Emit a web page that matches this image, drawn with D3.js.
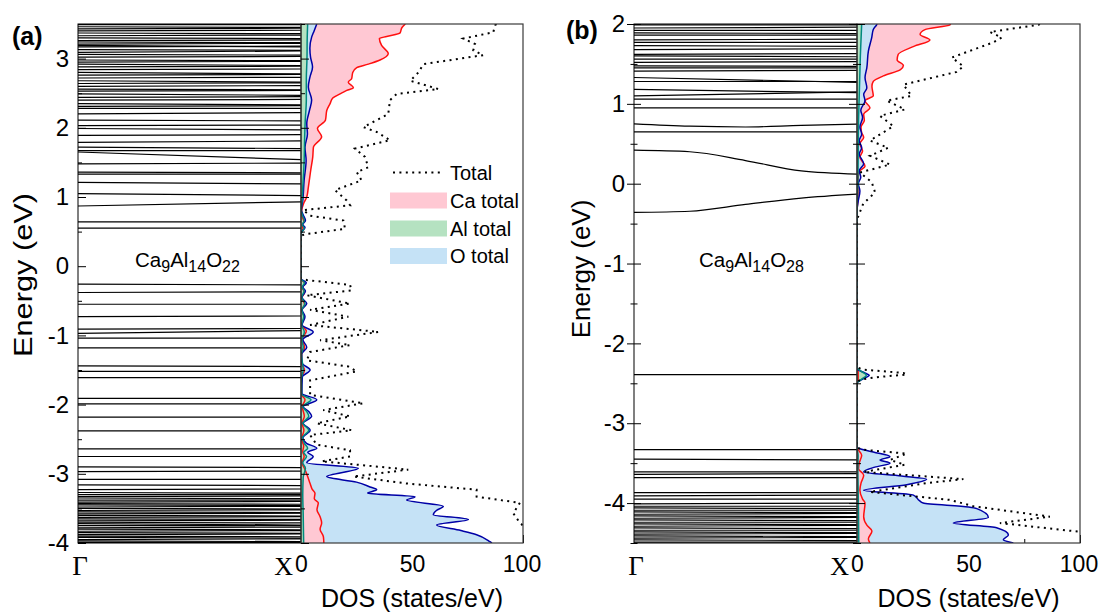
<!DOCTYPE html>
<html>
<head>
  <meta charset="utf-8">
  <title>Band structure and DOS</title>
  <script src="https://d3js.org/d3.v7.min.js"></script>
  <style>
    body { margin: 0; background: #fff; }
    svg { display: block; font-family: 'Liberation Sans', Arial, sans-serif; }
  </style>
</head>
<body>
<script>
  // ---- band energies (eV), each band sampled evenly from Γ to X ----
  const bandsA = [
    [3.49, 3.49], [3.46, 3.45], [3.43, 3.44], [3.40, 3.41], [3.37, 3.36], [3.33, 3.34], [3.30, 3.29],
    [3.26, 3.27], [3.24, 3.23], [3.21, 3.22], [3.19, 3.17], [3.17, 3.18], [3.13, 3.12], [3.09, 3.11],
    [3.06, 3.05], [3.02, 3.03], [2.98, 2.97], [2.95, 2.96], [2.92, 2.90], [2.88, 2.89], [2.84, 2.85],
    [2.80, 2.78], [2.76, 2.77], [2.72, 2.73], [2.68, 2.66], [2.64, 2.65], [2.60, 2.61], [2.56, 2.55],
    [2.53, 2.54], [2.49, 2.47], [2.44, 2.45], [2.40, 2.41], [2.35, 2.33], [2.31, 2.32], [2.28, 2.28],
    [2.20, 2.22], [2.11, 2.10], [2.03, 2.04], [1.99, 1.97], [1.89, 1.90], [1.79, 1.81], [1.72, 1.70],
    [1.67, 1.67], [1.65, 1.54], [1.48, 1.49], [1.36, 1.35], [1.33, 1.33], [1.21, 1.19], [1.05, 1.02],
    [0.87, 0.93], [0.64, 0.64], [0.55, 0.55],
    [-0.26, -0.27], [-0.38, -0.37], [-0.55, -0.55], [-0.73, -0.72], [-0.91, -0.90], [-0.97, -0.93],
    [-1.04, -1.04], [-1.18, -1.18], [-1.44, -1.45], [-1.52, -1.52], [-1.61, -1.61], [-1.91, -1.91],
    [-1.99, -1.99], [-2.18, -2.18], [-2.38, -2.38], [-2.64, -2.64], [-2.75, -2.75], [-2.90, -2.91],
    [-2.97, -2.96], [-3.08, -3.08], [-3.16, -3.17], [-3.23, -3.22],
    [-3.27, -3.28], [-3.30, -3.30], [-3.33, -3.32], [-3.35, -3.36], [-3.38, -3.38], [-3.41, -3.40],
    [-3.43, -3.44], [-3.45, -3.46], [-3.48, -3.47], [-3.50, -3.51], [-3.53, -3.52], [-3.55, -3.56],
    [-3.58, -3.57], [-3.60, -3.61], [-3.63, -3.62], [-3.65, -3.66], [-3.68, -3.67], [-3.70, -3.71],
    [-3.72, -3.74], [-3.75, -3.75], [-3.78, -3.77], [-3.80, -3.81], [-3.83, -3.82], [-3.85, -3.86],
    [-3.88, -3.87], [-3.90, -3.91], [-3.92, -3.93], [-3.95, -3.94], [-3.97, -3.98], [-3.99, -3.99]
  ];

  const bandsB = [
    [1.99, 1.99], [1.95, 1.96], [1.92, 1.92], [1.89, 1.88], [1.86, 1.86], [1.80, 1.81], [1.77, 1.77],
    [1.73, 1.72], [1.68, 1.69], [1.62, 1.63], [1.60, 1.59], [1.56, 1.56], [1.52, 1.53], [1.475, 1.47],
    [1.45, 1.45], [1.41, 1.42], [1.33, 1.27], [1.28, 1.28], [1.18, 1.14], [1.10, 1.15], [1.06, 1.06],
    [0.95, 0.95], [0.75, 0.72, 0.71, 0.73, 0.745], [0.65, 0.65],
    [0.42, 0.40, 0.29, 0.16, 0.12], [-0.36, -0.345, -0.26, -0.18, -0.13],
    [-2.39, -2.39],
    [-3.33, -3.33], [-3.45, -3.46], [-3.61, -3.61], [-3.64, -3.63], [-3.68, -3.68], [-3.87, -3.87],
    [-3.91, -3.90], [-3.95, -3.95], [-4.01, -4.00], [-4.04, -4.04], [-4.06, -4.07], [-4.09, -4.09],
    [-4.11, -4.12], [-4.14, -4.13], [-4.16, -4.17], [-4.19, -4.18], [-4.21, -4.22], [-4.24, -4.24],
    [-4.26, -4.27], [-4.29, -4.28], [-4.31, -4.32], [-4.34, -4.34], [-4.36, -4.37], [-4.39, -4.38],
    [-4.41, -4.42], [-4.44, -4.43], [-4.46, -4.47], [-4.49, -4.49]
  ];

  // ---- DOS, [energy eV, states/eV] ----
  const caA = [
    [3.5, 47], [3.45, 45.5], [3.37, 44.6], [3.32, 38.6], [3.29, 35.3], [3.19, 36.3], [3.07, 39.3],
    [2.98, 35.6], [2.92, 30.3], [2.87, 25.1], [2.80, 23.3], [2.71, 22.8], [2.66, 21.3], [2.58, 23.6],
    [2.54, 20.6], [2.49, 17.6], [2.43, 14.3], [2.35, 13.1], [2.25, 11.6], [2.11, 11.0], [1.99, 7.4],
    [1.87, 9.3], [1.72, 5.6], [1.58, 5.3], [1.39, 4.4], [1.14, 3.3], [1.0, 2.6], [0.90, 1.1], [0.80, 0.3],
    [0.72, 0.5], [0.65, 1.3], [0.59, 0.6], [0.54, 0.9], [0.48, 0.1], [0.44, 0], [-0.18, 0], [-0.25, 1.8],
    [-0.31, 0.6], [-0.38, 1.6], [-0.46, 0.3], [-0.55, 1.6], [-0.64, 0.4], [-0.73, 1.5], [-0.84, 0.4],
    [-0.94, 2.4], [-1.05, 0.6], [-1.17, 1.6], [-1.28, 0.3], [-1.40, 0.2], [-1.50, 1.6], [-1.62, 0.2],
    [-1.85, 0.2], [-1.93, 1.8], [-2.03, 0.6], [-2.17, 1.5], [-2.27, 0.5], [-2.37, 1.3], [-2.50, 0.3],
    [-2.60, 1.2], [-2.68, 0.8], [-2.75, 1.4], [-2.84, 0.5], [-2.94, 1.8], [-3.04, 3.0], [-3.14, 4.1],
    [-3.22, 5.0], [-3.28, 6.3], [-3.36, 6.0], [-3.42, 7.8], [-3.52, 7.2], [-3.62, 8.6], [-3.71, 9.3],
    [-3.80, 8.6], [-3.91, 10.1], [-4.0, 10.3]
  ];
  const alA = [
    [3.5, 3.0], [3.3, 2.8], [3.0, 2.7], [2.7, 2.4], [2.4, 2.4], [2.1, 1.9], [1.8, 1.6], [1.5, 1.4],
    [1.2, 0.9], [0.95, 0.5], [0.82, 0.1], [0.72, 0.8], [0.66, 1.5], [0.60, 0.6], [0.55, 1.4], [0.48, 0.2],
    [0.45, 0], [-0.18, 0], [-0.24, 1.6], [-0.30, 0.5], [-0.36, 1.4], [-0.45, 0.3], [-0.54, 1.8],
    [-0.63, 0.4], [-0.73, 1.2], [-0.85, 0.3], [-0.95, 1.5], [-1.06, 0.4], [-1.17, 1.0], [-1.27, 0.2],
    [-1.50, 1.0], [-1.62, 0.2], [-1.85, 0.3], [-1.93, 4.5], [-2.03, 0.8], [-2.10, 2.6], [-2.17, 3.5],
    [-2.27, 0.8], [-2.37, 3.5], [-2.48, 0.6], [-2.56, 1.5], [-2.63, 3.0], [-2.69, 1.2], [-2.75, 2.5],
    [-2.84, 0.8], [-2.92, 2.0], [-3.05, 1.0], [-3.3, 0.8], [-3.6, 1.0], [-3.8, 1.1], [-4.0, 1.2]
  ];
  const oA = [
    [3.5, 7.1], [3.40, 5.9], [3.31, 4.8], [3.15, 4.0], [3.02, 4.3], [2.88, 5.2], [2.73, 4.0], [2.59, 3.3],
    [2.40, 4.8], [2.25, 3.8], [2.06, 2.6], [1.91, 2.9], [1.72, 1.8], [1.53, 2.3], [1.24, 1.4], [0.95, 0.8],
    [0.81, 0.2], [0.74, 1.0], [0.66, 2.0], [0.60, 0.8], [0.56, 1.8], [0.50, 0.4], [0.45, 0], [-0.18, 0],
    [-0.24, 2.4], [-0.30, 0.8], [-0.36, 2.0], [-0.45, 0.4], [-0.54, 2.6], [-0.63, 0.5], [-0.73, 1.8],
    [-0.85, 0.5], [-0.95, 5.5], [-1.06, 0.8], [-1.17, 2.6], [-1.27, 0.3], [-1.40, 0.5], [-1.50, 4.1],
    [-1.60, 0.6], [-1.84, 0.4], [-1.93, 7.1], [-2.03, 1.0], [-2.10, 3.5], [-2.17, 4.8], [-2.27, 1.0],
    [-2.37, 4.1], [-2.48, 0.8], [-2.56, 2.5], [-2.63, 7.1], [-2.69, 3.0], [-2.75, 5.5], [-2.84, 2.6],
    [-2.92, 25.8], [-3.04, 11.6], [-3.12, 25], [-3.19, 31.1], [-3.23, 34.1], [-3.28, 30], [-3.33, 51.4],
    [-3.38, 47.6], [-3.47, 64.1], [-3.53, 61], [-3.59, 59.6], [-3.66, 75.4], [-3.74, 61.1], [-3.82, 72],
    [-3.88, 79.1], [-3.98, 85.1], [-4.0, 86]
  ];
  const totalA = [
    [3.5, 88], [3.48, 87.4], [3.38, 86.6], [3.29, 73.1], [3.21, 78.4], [3.12, 77.6], [3.05, 82.1],
    [2.92, 55.1], [2.80, 52.9], [2.68, 49.2], [2.56, 61.9], [2.49, 43.1], [2.40, 40.1], [2.20, 39.3],
    [2.01, 28.1], [1.94, 34.1], [1.82, 40.1], [1.70, 24.3], [1.58, 28.8], [1.43, 30.3], [1.36, 25.1],
    [1.24, 27.3], [1.10, 15.3], [0.95, 20.6], [0.88, 22.1], [0.81, 1.0], [0.73, 4.1], [0.66, 19.1],
    [0.60, 19.5], [0.54, 19.8], [0.46, 1.6], [0.44, 0], [-0.18, 0], [-0.20, 2.6], [-0.27, 22.1],
    [-0.35, 22.8], [-0.42, 2.6], [-0.54, 22.1], [-0.63, 4.1], [-0.73, 21.3], [-0.85, 4.1], [-0.95, 34.8],
    [-1.07, 8.6], [-1.14, 22.1], [-1.24, 4.1], [-1.36, 2.6], [-1.45, 21.3], [-1.52, 25.1], [-1.65, 4.1],
    [-1.86, 4.1], [-1.98, 28.1], [-2.08, 10.0], [-2.17, 22.1], [-2.27, 7.1], [-2.37, 22.8], [-2.44, 4.1],
    [-2.58, 7.1], [-2.66, 22.1], [-2.75, 22.1], [-2.82, 9.3], [-2.90, 35.6], [-2.94, 48.3], [-3.04, 23.6],
    [-3.14, 47.6], [-3.23, 79.1], [-3.33, 79.1], [-3.42, 98.6], [-3.57, 95.6], [-3.71, 98.6],
    [-3.85, 104], [-4.0, 110]
  ];

  const caB = [
    [2.0, 42], [1.99, 41.7], [1.93, 30.5], [1.87, 28.3], [1.80, 32.7], [1.72, 25.5], [1.62, 18.5],
    [1.55, 18.0], [1.48, 20.8], [1.43, 19.5], [1.35, 11.8], [1.28, 7.3], [1.22, 6.7], [1.10, 7.3],
    [1.04, 3.6], [0.95, 5.8], [0.87, 3.0], [0.79, 3.3], [0.71, 1.8], [0.64, 2.1], [0.58, 3.0], [0.50, 1.3],
    [0.41, 2.5], [0.33, 1.3], [0.22, 3.6], [0.16, 1.3], [0.10, 0.6], [0.0, 0.5], [-0.2, 0.4], [-0.34, 0],
    [-2.3, 0], [-2.35, 0.5], [-2.45, 0.5], [-2.5, 0], [-3.30, 0], [-3.40, 2.1], [-3.50, 1.0], [-3.57, 0.7],
    [-3.65, 3.0], [-3.75, 1.8], [-3.84, 1.3], [-3.95, 2.5], [-4.0, 3.6], [-4.17, 3.0], [-4.28, 4.5],
    [-4.35, 6.7], [-4.45, 5.1], [-4.5, 5.8]
  ];
  const alB = [
    [2.0, 2.1], [1.8, 1.8], [1.6, 1.5], [1.4, 1.3], [1.2, 1.1], [1.0, 0.9], [0.8, 0.7], [0.6, 0.6],
    [0.3, 0.5], [0.0, 0.4], [-0.34, 0], [-2.30, 0], [-2.36, 2.5], [-2.40, 4.2], [-2.45, 2.0], [-2.50, 0],
    [-3.30, 0], [-3.40, 0.5], [-3.6, 0.4], [-3.8, 0.5], [-4.0, 0.6], [-4.2, 0.7], [-4.5, 0.8]
  ];
  const oB = [
    [2.0, 9], [1.99, 8.8], [1.93, 7.3], [1.83, 6.6], [1.66, 5.1], [1.45, 4.4], [1.33, 3.6], [1.20, 4.4],
    [1.12, 3.0], [1.04, 3.6], [0.92, 1.7], [0.83, 2.5], [0.71, 1.3], [0.62, 2.1], [0.54, 1.0], [0.45, 2.1],
    [0.37, 1.0], [0.25, 3.0], [0.16, 1.0], [0.08, 1.7], [0.0, 0.6], [-0.09, 1.3], [-0.21, 0.6], [-0.34, 0],
    [-2.32, 0], [-2.37, 3.5], [-2.40, 5.5], [-2.44, 3.0], [-2.50, 0], [-3.30, 0], [-3.36, 7.3],
    [-3.42, 14.8], [-3.46, 10.3], [-3.50, 14.8], [-3.55, 8], [-3.61, 3.0], [-3.66, 20], [-3.70, 31.2],
    [-3.77, 22.3], [-3.84, 3.0], [-3.90, 25.3], [-3.97, 28], [-4.00, 29.7], [-4.05, 50], [-4.07, 53.7],
    [-4.18, 58.9], [-4.25, 43.2], [-4.31, 62.6], [-4.40, 67.9], [-4.46, 65.6], [-4.5, 70.1]
  ];
  const totalB = [
    [2.0, 82], [1.99, 81.3], [1.90, 59.6], [1.83, 64.9], [1.77, 61.1], [1.58, 42.5], [1.47, 47.7],
    [1.40, 44.7], [1.24, 20.8], [1.10, 24.5], [1.04, 13.3], [0.93, 21.5], [0.85, 10.3], [0.72, 16.3],
    [0.54, 5.8], [0.45, 14.0], [0.35, 5.8], [0.24, 14.8], [0.14, 1.3], [0.02, 6.6], [-0.11, 8.1],
    [-0.25, 2.8], [-0.42, 0.4], [-0.45, 0], [-2.30, 0], [-2.33, 3], [-2.37, 20.8], [-2.39, 22.3],
    [-2.42, 10], [-2.45, 2], [-2.48, 0], [-3.30, 0], [-3.33, 2], [-3.38, 22.3], [-3.46, 14.8],
    [-3.52, 21.5], [-3.61, 3.0], [-3.70, 47.7], [-3.75, 31.2], [-3.86, 5.8], [-3.96, 41.7], [-4.04, 52.2],
    [-4.17, 86.5], [-4.25, 64.1], [-4.36, 100], [-4.5, 110]
  ];

  // painting order of the filled DOS (largest drawn first) by energy window
  const orderA = [
    { hi: 3.5, lo: 0.3, layers: ['ca', 'o', 'al'] },
    { hi: 0.3, lo: -4, layers: ['o', 'ca', 'al'] }
  ];
  const orderB = [
    { hi: 2, lo: 0, layers: ['ca', 'o', 'al'] },
    { hi: 0, lo: -4.5, layers: ['o', 'ca', 'al'] }
  ];

  const majorA = [-4, -3, -2, -1, 0, 1, 2, 3];
  const minorA = [-3.5, -2.5, -1.5, -0.5, 0.5, 1.5, 2.5, 3.5];
  const majorB = [-4, -3, -2, -1, 0, 1, 2];
  const minorB = [-4.5, -3.5, -2.5, -1.5, -0.5, 0.5, 1.5];
  const dosTicks = [0, 50, 100];
  const dosMinor = [25, 75];
  const kLabels = ['Γ', 'X'];
  const legendItems = ['Total', 'Ca total', 'Al total', 'O total'];

  const colors = {
    ca: { fill: '#ffc8d3', stroke: '#ff1010' },
    al: { fill: '#b5e2c1', stroke: '#00897e' },
    o: { fill: '#c5e2f6', stroke: '#0000a6' }
  };

  const svg = d3.select('body').append('svg')
    .attr('width', 1099)
    .attr('height', 613);
  const defs = svg.append('defs');

  const panels = [
    {
      id: 'a', label: '(a)', labelX: 12, labelY: 45,
      x0: 78, x1: 301, x2: 523, top: 24, bottom: 543, domain: [-4, 3.5],
      bands: bandsA, pdos: { ca: caA, al: alA, o: oA }, total: totalA, order: orderA,
      major: majorA, minor: minorA, inward: true,
      formula: ['Ca', '9', 'Al', '14', 'O', '22'], fx: 135, fy: 267,
      eLabelX: 32, eLabelY: 275, eLabelLen: 164, legend: true
    },
    {
      id: 'b', label: '(b)', labelX: 566, labelY: 39,
      x0: 634, x1: 857, x2: 1080, top: 24, bottom: 543, domain: [-4.5, 2],
      bands: bandsB, pdos: { ca: caB, al: alB, o: oB }, total: totalB, order: orderB,
      major: majorB, minor: minorB, inward: false,
      formula: ['Ca', '9', 'Al', '14', 'O', '28'], fx: 699, fy: 267,
      eLabelX: 590, eLabelY: 269, eLabelLen: null, legend: false
    }
  ];

  const drawPanel = (p) => {
    const g = svg.append('g');
    const y = d3.scaleLinear().domain(p.domain).range([p.bottom, p.top]);
    const k = d3.scaleLinear().domain([0, 1]).range([p.x0, p.x1]);
    const x = d3.scaleLinear().domain([0, 100]).range([p.x1, p.x2]);

    defs.append('clipPath').attr('id', 'band-' + p.id).append('rect')
      .attr('x', p.x0).attr('y', p.top).attr('width', p.x1 - p.x0).attr('height', p.bottom - p.top);
    defs.append('clipPath').attr('id', 'dos-' + p.id).append('rect')
      .attr('x', p.x1).attr('y', p.top).attr('width', p.x2 - p.x1).attr('height', p.bottom - p.top);

    // band structure
    const bandLine = d3.line()
      .x((d, i, arr) => k(i / (arr.length - 1)))
      .y(d => y(d))
      .curve(d3.curveMonotoneX);
    g.append('g').attr('clip-path', 'url(#band-' + p.id + ')')
      .selectAll('path').data(p.bands).join('path')
      .attr('d', bandLine)
      .attr('fill', 'none')
      .attr('stroke', '#000')
      .attr('stroke-width', 1.2);

    // DOS x axis ticks (under the fills)
    const xAxis = g.append('g').attr('transform', `translate(0,${p.bottom})`)
      .call(d3.axisBottom(x).tickValues(dosTicks).tickSize(-8).tickPadding(13).tickFormat(d => String(d)));
    xAxis.select('.domain').remove();
    xAxis.selectAll('text')
      .attr('font-size', 23)
      .attr('font-family', "'Liberation Sans', Arial, sans-serif")
      .attr('dx', d => (d === 100 ? -1.5 : 0));
    const xMinor = g.append('g').attr('transform', `translate(0,${p.bottom})`)
      .call(d3.axisBottom(x).tickValues(dosMinor).tickSize(-4).tickFormat(''));
    xMinor.select('.domain').remove();

    const dos = g.append('g').attr('clip-path', 'url(#dos-' + p.id + ')');
    const area = d3.area()
      .y(d => y(d[0]))
      .x0(x(0))
      .x1(d => x(d[1]))
      .curve(d3.curveMonotoneY);
    const line = d3.line()
      .y(d => y(d[0]))
      .x(d => x(d[1]))
      .curve(d3.curveMonotoneY);

    p.order.forEach((r, j) => {
      const cid = `ord-${p.id}-${j}`;
      defs.append('clipPath').attr('id', cid).append('rect')
        .attr('x', p.x1).attr('width', p.x2 - p.x1)
        .attr('y', y(r.hi) - 0.5).attr('height', y(r.lo) - y(r.hi) + 1);
      const layer = dos.append('g').attr('clip-path', `url(#${cid})`);
      r.layers.forEach(s => {
        layer.append('path').datum(p.pdos[s])
          .attr('d', area)
          .attr('fill', colors[s].fill);
      });
    });

    ['ca', 'o', 'al'].forEach(s => {
      dos.append('path').datum(p.pdos[s])
        .attr('d', line)
        .attr('fill', 'none')
        .attr('stroke', colors[s].stroke)
        .attr('stroke-width', 1.5);
    });

    dos.append('path').datum(p.total)
      .attr('d', d3.line().y(d => y(d[0])).x(d => x(d[1])))
      .attr('fill', 'none')
      .attr('stroke', '#000')
      .attr('stroke-width', 2)
      .attr('stroke-dasharray', '2,4.4');

    // frames
    g.append('rect')
      .attr('x', p.x0).attr('y', p.top).attr('width', p.x1 - p.x0).attr('height', p.bottom - p.top)
      .attr('fill', 'none').attr('stroke', '#000').attr('stroke-width', 1);
    g.append('rect')
      .attr('x', p.x1).attr('y', p.top).attr('width', p.x2 - p.x1).attr('height', p.bottom - p.top)
      .attr('fill', 'none').attr('stroke', '#3a3a3a').attr('stroke-width', 1.2);

    // energy axis, labels on the band panel
    const yAxis = g.append('g').attr('transform', `translate(${p.x0},0)`)
      .call(d3.axisLeft(y).tickValues(p.major).tickSize(p.inward ? -8 : 7).tickPadding(p.inward ? 9 : 2)
        .tickFormat(d => String(d)));
    yAxis.select('.domain').remove();
    yAxis.selectAll('text').attr('font-size', 24).attr('font-family', "'Liberation Sans', Arial, sans-serif");
    const yMinor = g.append('g').attr('transform', `translate(${p.x0},0)`)
      .call(d3.axisLeft(y).tickValues(p.minor).tickSize(p.inward ? -4 : 3.5).tickFormat(''));
    yMinor.select('.domain').remove();
    if (!p.inward) {
      yAxis.selectAll('.tick line').attr('x1', 7).attr('x2', -7);
      yMinor.selectAll('.tick line').attr('x1', 3.5).attr('x2', -3.5);
    }

    // ticks on the DOS left edge
    const dAxis = g.append('g').attr('transform', `translate(${p.x1},0)`)
      .call(d3.axisRight(y).tickValues(p.major).tickSize(8).tickFormat(''));
    dAxis.select('.domain').remove();
    const dMinor = g.append('g').attr('transform', `translate(${p.x1},0)`)
      .call(d3.axisRight(y).tickValues(p.minor).tickSize(4).tickFormat(''));
    dMinor.select('.domain').remove();
    if (!p.inward) {
      dAxis.selectAll('.tick line').attr('x1', -8).attr('x2', 8);
      dMinor.selectAll('.tick line').attr('x1', -4).attr('x2', 4);
    }

    // k-point labels
    g.append('text').text(kLabels[0])
      .attr('x', k(0) + 2).attr('y', 575)
      .attr('text-anchor', 'middle')
      .attr('font-family', "'Liberation Serif', 'Times New Roman', serif")
      .attr('font-size', 27);
    g.append('text').text(kLabels[1])
      .attr('x', k(1) - 8).attr('y', 575)
      .attr('text-anchor', 'end')
      .attr('font-family', "'Liberation Serif', 'Times New Roman', serif")
      .attr('font-size', 26);

    // axis titles
    g.append('text').text('DOS (states/eV)')
      .attr('x', (p.x1 + p.x2) / 2).attr('y', 607)
      .attr('text-anchor', 'middle')
      .attr('font-size', 25);
    const et = g.append('text').text('Energy (eV)')
      .attr('transform', `translate(${p.eLabelX},${p.eLabelY}) rotate(-90)`)
      .attr('text-anchor', 'middle')
      .attr('font-size', 26);
    if (p.eLabelLen) et.attr('textLength', p.eLabelLen).attr('lengthAdjust', 'spacingAndGlyphs');

    // panel tag
    g.append('text').text(p.label)
      .attr('x', p.labelX).attr('y', p.labelY)
      .attr('font-weight', 'bold')
      .attr('font-size', 25);

    // formula
    const ft = g.append('text').attr('x', p.fx).attr('y', p.fy).attr('font-size', 20.5);
    p.formula.forEach((s, i) => {
      const sub = i % 2 === 1;
      ft.append('tspan').text(s)
        .attr('font-size', sub ? 16 : 20.5)
        .attr('dy', i === 0 ? 0 : (sub ? 5 : -5));
    });

    if (p.legend) {
      const lg = g.append('g');
      const rows = [172.5, 200.5, 228.5, 256];
      lg.append('line')
        .attr('x1', 393).attr('x2', 443).attr('y1', rows[0]).attr('y2', rows[0])
        .attr('stroke', '#000').attr('stroke-width', 2).attr('stroke-dasharray', '2,4.4');
      ['ca', 'al', 'o'].forEach((s, i) => {
        lg.append('rect')
          .attr('x', 390).attr('y', rows[i + 1] - 8).attr('width', 57).attr('height', 16)
          .attr('fill', colors[s].fill);
      });
      legendItems.forEach((t, i) => {
        lg.append('text').text(t)
          .attr('x', 450).attr('y', rows[i])
          .attr('dy', '0.36em')
          .attr('font-size', 20);
      });
    }
  };

  panels.forEach(drawPanel);
</script>
</body>
</html>
